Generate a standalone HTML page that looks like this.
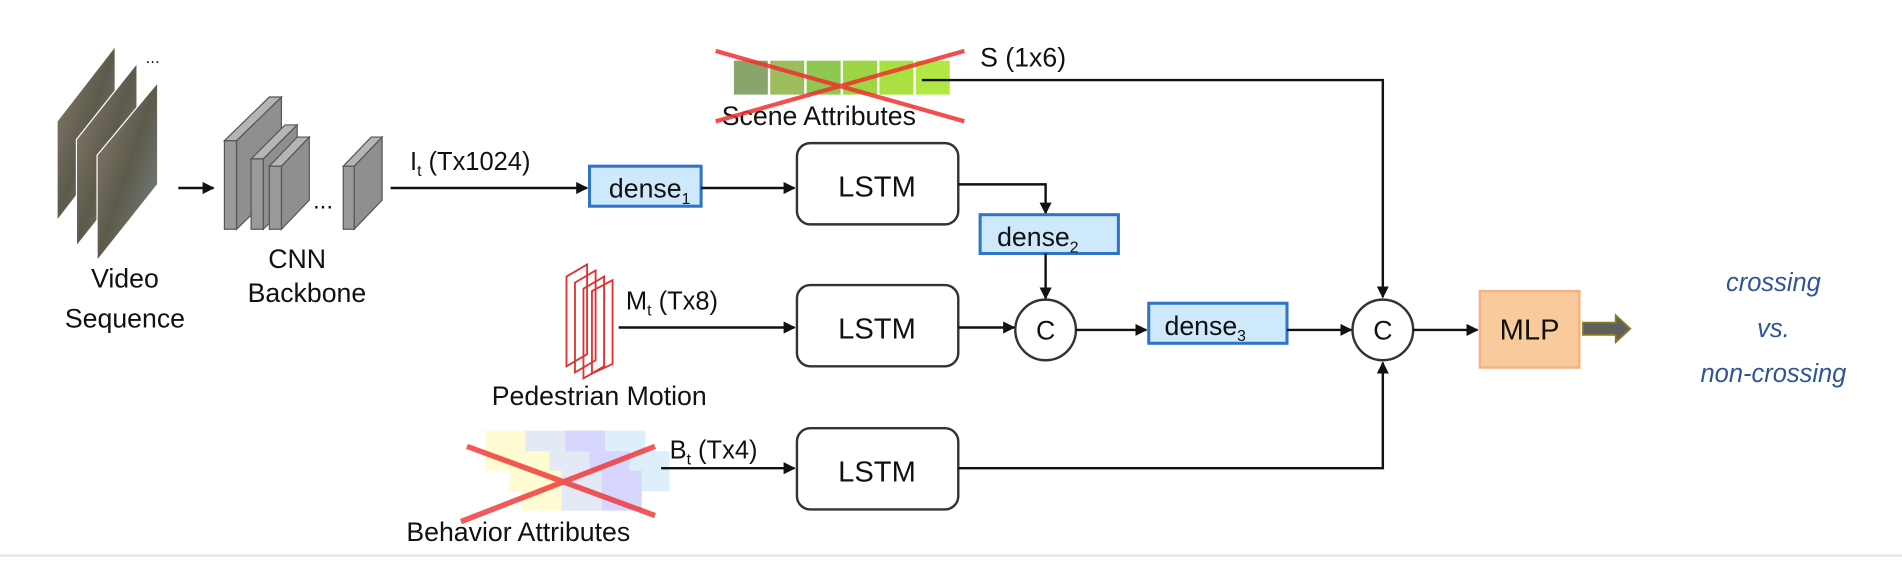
<!DOCTYPE html>
<html><head><meta charset="utf-8"><style>
html,body{margin:0;padding:0;background:#fff;}
svg{display:block;}
text{font-family:"Liberation Sans",Arial,sans-serif;fill:#111;}
</style></head><body>
<svg width="1902" height="561" viewBox="0 0 1568 462.5" preserveAspectRatio="none" xmlns="http://www.w3.org/2000/svg">
<defs>
<marker id="a" markerWidth="10" markerHeight="10" refX="9" refY="5" orient="auto" markerUnits="userSpaceOnUse"><path d="M0,0 L10,5 L0,10 z" fill="#111"/></marker>
<linearGradient id="v" x1="0" y1="0" x2="1" y2="1"><stop offset="0" stop-color="#8a8170"/><stop offset="0.5" stop-color="#5d5a4c"/><stop offset="1" stop-color="#7b8a88"/></linearGradient>
</defs>
<rect width="1568" height="462.5" fill="#fff"/>
<line x1="0" y1="458" x2="1568" y2="458" stroke="#e6e6e6" stroke-width="2"/>
<!-- video frames -->
<g stroke="#fff" stroke-width="1">
<polygon points="47,100 95,38 95,120 47,182" fill="url(#v)"/>
<polygon points="63,115 113,52 113,140 63,203" fill="url(#v)"/>
<polygon points="80,128 130,68 130,152 80,215" fill="url(#v)"/>
</g>
<text x="120" y="52" font-size="14">...</text>
<text x="103" y="237" font-size="22" text-anchor="middle">Video</text>
<text x="103" y="270" font-size="22" text-anchor="middle">Sequence</text>
<line x1="147" y1="155" x2="176" y2="155" stroke="#111" stroke-width="2" marker-end="url(#a)"/>
<!-- CNN blocks -->
<g stroke="#555" stroke-width="1">
<polygon points="195,116 232,80 232,153 195,189" fill="#8f8f8f"/><polygon points="185,116 222,80 232,80 195,116" fill="#b5b5b5"/><rect x="185" y="116" width="10" height="73" fill="#9a9a9a"/>
<polygon points="217,131 245,103 245,161 217,189" fill="#8f8f8f"/><polygon points="207,131 235,103 245,103 217,131" fill="#b5b5b5"/><rect x="207" y="131" width="10" height="58" fill="#9a9a9a"/>
<polygon points="232,137 255,113 255,165 232,189" fill="#8f8f8f"/><polygon points="222,137 245,113 255,113 232,137" fill="#b5b5b5"/><rect x="222" y="137" width="10" height="52" fill="#9a9a9a"/>
<polygon points="292,137 315,113 315,165 292,189" fill="#8f8f8f"/><polygon points="283,137 306,113 315,113 292,137" fill="#b5b5b5"/><rect x="283" y="137" width="9" height="52" fill="#9a9a9a"/>
</g>
<text x="258" y="172" font-size="20">...</text>
<text x="245" y="221" font-size="22" text-anchor="middle">CNN</text>
<text x="253" y="249" font-size="22" text-anchor="middle">Backbone</text>
<!-- It line -->
<line x1="322" y1="155" x2="484" y2="155" stroke="#111" stroke-width="2" marker-end="url(#a)"/>
<text x="338" y="140" font-size="21">I<tspan font-size="13" dy="5">t</tspan><tspan dy="-5"> (Tx1024)</tspan></text>
<rect x="486" y="137" width="92" height="33" fill="#cde9fb" stroke="#2e75c8" stroke-width="2.5"/>
<text x="502" y="163" font-size="22">dense<tspan font-size="13" dy="5">1</tspan></text>
<line x1="578" y1="155" x2="655" y2="155" stroke="#111" stroke-width="2" marker-end="url(#a)"/>
<!-- LSTMs -->
<g fill="#fff" stroke="#333" stroke-width="2">
<rect x="657" y="118" width="133" height="67" rx="11"/>
<rect x="657" y="235" width="133" height="67" rx="11"/>
<rect x="657" y="353" width="133" height="67" rx="11"/>
</g>
<text x="723" y="162" font-size="24" text-anchor="middle">LSTM</text>
<text x="723" y="279" font-size="24" text-anchor="middle">LSTM</text>
<text x="723" y="397" font-size="24" text-anchor="middle">LSTM</text>
<!-- dense2 -->
<polyline points="790,152 862,152 862,176" fill="none" stroke="#111" stroke-width="2" marker-end="url(#a)"/>
<rect x="808" y="177" width="114" height="32" fill="#cde9fb" stroke="#2e75c8" stroke-width="2.5"/>
<text x="822" y="203" font-size="22">dense<tspan font-size="13" dy="5">2</tspan></text>
<line x1="862" y1="209" x2="862" y2="246" stroke="#111" stroke-width="2" marker-end="url(#a)"/>
<!-- circles -->
<circle cx="862" cy="272" r="25" fill="#fff" stroke="#333" stroke-width="2"/>
<text x="862" y="280" font-size="22" text-anchor="middle">C</text>
<circle cx="1140" cy="272" r="25" fill="#fff" stroke="#333" stroke-width="2"/>
<text x="1140" y="280" font-size="22" text-anchor="middle">C</text>
<!-- motion -->
<g fill="none" stroke="#e03030" stroke-width="1.5">
<polygon points="467,228 484,218 484,292 467,302"/>
<polygon points="474,233 491,223 491,297 474,307"/>
<polygon points="481,238 498,228 498,302 481,312"/>
<polygon points="488,240 505,231 505,300 488,308"/>
</g>
<text x="494" y="334" font-size="22" text-anchor="middle">Pedestrian Motion</text>
<text x="516" y="255" font-size="21">M<tspan font-size="13" dy="5">t</tspan><tspan dy="-5"> (Tx8)</tspan></text>
<line x1="510" y1="270" x2="655" y2="270" stroke="#111" stroke-width="2" marker-end="url(#a)"/>
<line x1="790" y1="270" x2="836" y2="270" stroke="#111" stroke-width="2" marker-end="url(#a)"/>
<line x1="887" y1="272" x2="945" y2="272" stroke="#111" stroke-width="2" marker-end="url(#a)"/>
<rect x="947" y="250" width="114" height="33" fill="#cde9fb" stroke="#2e75c8" stroke-width="2.5"/>
<text x="960" y="276" font-size="22">dense<tspan font-size="13" dy="5">3</tspan></text>
<line x1="1061" y1="272" x2="1114" y2="272" stroke="#111" stroke-width="2" marker-end="url(#a)"/>
<!-- scene -->
<g>
<rect x="605" y="50" width="28" height="28" fill="#8aa56b"/>
<rect x="635" y="50" width="28" height="28" fill="#9dbd5c"/>
<rect x="665" y="50" width="28" height="28" fill="#8fc850"/>
<rect x="695" y="50" width="28" height="28" fill="#9dd545"/>
<rect x="725" y="50" width="28" height="28" fill="#a8e040"/>
<rect x="755" y="50" width="28" height="28" fill="#b2e845"/>
</g>
<text x="595" y="103" font-size="22">Scene Attributes</text>
<g stroke="#f03030" stroke-width="3.5" opacity="0.85">
<line x1="590" y1="42" x2="795" y2="100"/>
<line x1="590" y1="100" x2="795" y2="42"/>
</g>
<text x="808" y="55" font-size="22">S (1x6)</text>
<polyline points="760,66 1140,66 1140,245" fill="none" stroke="#111" stroke-width="2" marker-end="url(#a)"/>
<!-- behavior -->
<g opacity="0.8">
<rect x="400" y="355" width="33" height="33" fill="#fffbc8"/>
<rect x="433" y="355" width="33" height="33" fill="#dde4f3"/>
<rect x="466" y="355" width="33" height="33" fill="#ccccff"/>
<rect x="499" y="355" width="33" height="33" fill="#d4ecfb"/>
<rect x="420" y="372" width="33" height="33" fill="#fffbc8"/>
<rect x="453" y="372" width="33" height="33" fill="#dde4f3"/>
<rect x="486" y="372" width="33" height="33" fill="#ccccff"/>
<rect x="519" y="372" width="33" height="33" fill="#d4ecfb"/>
<rect x="430" y="388" width="33" height="33" fill="#fffbc8"/>
<rect x="463" y="388" width="33" height="33" fill="#dde4f3"/>
<rect x="496" y="388" width="33" height="33" fill="#ccccff"/>
</g>
<g stroke="#f03030" stroke-width="4.5" opacity="0.8">
<line x1="385" y1="368" x2="540" y2="425"/>
<line x1="380" y1="430" x2="540" y2="368"/>
</g>
<text x="335" y="446" font-size="22">Behavior Attributes</text>
<text x="552" y="378" font-size="21">B<tspan font-size="13" dy="5">t</tspan><tspan dy="-5"> (Tx4)</tspan></text>
<line x1="545" y1="386" x2="655" y2="386" stroke="#111" stroke-width="2" marker-end="url(#a)"/>
<polyline points="790,386 1140,386 1140,299" fill="none" stroke="#111" stroke-width="2" marker-end="url(#a)"/>
<!-- MLP -->
<line x1="1165" y1="272" x2="1218" y2="272" stroke="#111" stroke-width="2" marker-end="url(#a)"/>
<rect x="1220" y="240" width="82" height="63" fill="#f9cb9c" stroke="#f4b183" stroke-width="2"/>
<text x="1261" y="280" font-size="24" text-anchor="middle">MLP</text>
<polygon points="1305,266 1332,266 1332,260 1344,271 1332,282 1332,276 1305,276" fill="#5f5f5f" stroke="#8a7a20" stroke-width="1.5"/>
<g font-style="italic" font-size="21" text-anchor="middle">
<text x="1462" y="240" style="fill:#2f5597">crossing</text>
<text x="1462" y="278" style="fill:#2f5597">vs.</text>
<text x="1462" y="315" style="fill:#2f5597">non-crossing</text>
</g>
</svg>
</body></html>
